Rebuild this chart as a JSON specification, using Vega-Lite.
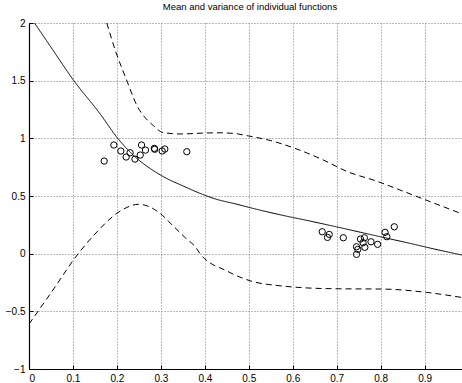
{
  "$schema": "https://vega.github.io/schema/vega-lite/v6.json",
  "width": 433,
  "height": 346,
  "autosize": {"type": "none"},
  "padding": {"left": 29, "top": 23, "right": 0, "bottom": 14},
  "background": "white",
  "title": {"text": "Mean and variance of individual functions", "fontSize": 9.5, "fontWeight": "normal", "font": "Liberation Sans", "color": "black", "anchor": "middle", "dx": 4.5, "offset": 7},
  "config": {
    "view": {"stroke": null},
    "font": "Liberation Sans",
    "axis": {
      "labelFont": "Liberation Sans", "labelFontSize": 10, "labelColor": "black",
      "domainColor": "black", "domainWidth": 1.2, "tickColor": "black", "tickSize": -4,
      "gridColor": "#777", "gridDash": [1, 2], "gridWidth": 1, "gridOpacity": 1,
      "title": null, "format": "~g"
    }
  },
  "datasets": {
    "curves": [
      {"curve": "mean", "x": 0, "y": 2.07},
      {"curve": "mean", "x": 0.05, "y": 1.79},
      {"curve": "mean", "x": 0.102, "y": 1.5},
      {"curve": "mean", "x": 0.162, "y": 1.211},
      {"curve": "mean", "x": 0.199, "y": 1.014},
      {"curve": "mean", "x": 0.237, "y": 0.855},
      {"curve": "mean", "x": 0.275, "y": 0.74},
      {"curve": "mean", "x": 0.313, "y": 0.653},
      {"curve": "mean", "x": 0.351, "y": 0.586},
      {"curve": "mean", "x": 0.389, "y": 0.523},
      {"curve": "mean", "x": 0.427, "y": 0.471},
      {"curve": "mean", "x": 0.465, "y": 0.436},
      {"curve": "mean", "x": 0.525, "y": 0.378},
      {"curve": "mean", "x": 0.58, "y": 0.33},
      {"curve": "mean", "x": 0.639, "y": 0.283},
      {"curve": "mean", "x": 0.7, "y": 0.232},
      {"curve": "mean", "x": 0.8, "y": 0.146},
      {"curve": "mean", "x": 0.867, "y": 0.089},
      {"curve": "mean", "x": 0.92, "y": 0.042},
      {"curve": "mean", "x": 0.985, "y": -0.012},
      {"curve": "upper", "x": 0.177, "y": 2.0},
      {"curve": "upper", "x": 0.196, "y": 1.766},
      {"curve": "upper", "x": 0.222, "y": 1.506},
      {"curve": "upper", "x": 0.245, "y": 1.289},
      {"curve": "upper", "x": 0.283, "y": 1.11},
      {"curve": "upper", "x": 0.305, "y": 1.05},
      {"curve": "upper", "x": 0.343, "y": 1.038},
      {"curve": "upper", "x": 0.4, "y": 1.046},
      {"curve": "upper", "x": 0.43, "y": 1.048},
      {"curve": "upper", "x": 0.465, "y": 1.043},
      {"curve": "upper", "x": 0.5, "y": 1.02},
      {"curve": "upper", "x": 0.55, "y": 0.98},
      {"curve": "upper", "x": 0.605, "y": 0.913},
      {"curve": "upper", "x": 0.665, "y": 0.82},
      {"curve": "upper", "x": 0.725, "y": 0.71},
      {"curve": "upper", "x": 0.79, "y": 0.63},
      {"curve": "upper", "x": 0.844, "y": 0.552},
      {"curve": "upper", "x": 0.92, "y": 0.44},
      {"curve": "upper", "x": 0.985, "y": 0.345},
      {"curve": "lower", "x": 0, "y": -0.61},
      {"curve": "lower", "x": 0.05, "y": -0.34},
      {"curve": "lower", "x": 0.112, "y": 0.0},
      {"curve": "lower", "x": 0.15, "y": 0.17},
      {"curve": "lower", "x": 0.2, "y": 0.35},
      {"curve": "lower", "x": 0.225, "y": 0.405},
      {"curve": "lower", "x": 0.248, "y": 0.428},
      {"curve": "lower", "x": 0.272, "y": 0.41},
      {"curve": "lower", "x": 0.298, "y": 0.35},
      {"curve": "lower", "x": 0.328, "y": 0.24},
      {"curve": "lower", "x": 0.355, "y": 0.14},
      {"curve": "lower", "x": 0.381, "y": 0.046},
      {"curve": "lower", "x": 0.389, "y": 0.0},
      {"curve": "lower", "x": 0.45, "y": -0.15},
      {"curve": "lower", "x": 0.503, "y": -0.235},
      {"curve": "lower", "x": 0.578, "y": -0.281},
      {"curve": "lower", "x": 0.692, "y": -0.304},
      {"curve": "lower", "x": 0.806, "y": -0.307},
      {"curve": "lower", "x": 0.905, "y": -0.336},
      {"curve": "lower", "x": 0.985, "y": -0.38}
    ],
    "points": [
      {"x": 0.171, "y": 0.803},
      {"x": 0.193, "y": 0.942},
      {"x": 0.209, "y": 0.89},
      {"x": 0.221, "y": 0.838},
      {"x": 0.23, "y": 0.875},
      {"x": 0.241, "y": 0.82},
      {"x": 0.253, "y": 0.855},
      {"x": 0.256, "y": 0.942},
      {"x": 0.265, "y": 0.898},
      {"x": 0.285, "y": 0.913},
      {"x": 0.286, "y": 0.905},
      {"x": 0.303, "y": 0.89},
      {"x": 0.309, "y": 0.907},
      {"x": 0.359, "y": 0.884},
      {"x": 0.667, "y": 0.19},
      {"x": 0.679, "y": 0.141},
      {"x": 0.683, "y": 0.167},
      {"x": 0.715, "y": 0.138},
      {"x": 0.745, "y": 0.06},
      {"x": 0.748, "y": 0.037},
      {"x": 0.745, "y": -0.006},
      {"x": 0.754, "y": 0.127},
      {"x": 0.763, "y": 0.138},
      {"x": 0.76, "y": 0.095},
      {"x": 0.764, "y": 0.055},
      {"x": 0.778, "y": 0.103},
      {"x": 0.793, "y": 0.081},
      {"x": 0.81, "y": 0.185},
      {"x": 0.814, "y": 0.147},
      {"x": 0.831, "y": 0.233}
    ]
  },
  "layer": [
    {
      "data": {"name": "curves"},
      "mark": {"type": "line", "color": "black", "strokeWidth": 1, "interpolate": "monotone", "clip": true},
      "encoding": {
        "x": {"field": "x", "type": "quantitative", "scale": {"domain": [0, 0.985], "nice": false, "zero": false},
          "axis": {"values": [0, 0.1, 0.2, 0.3, 0.4, 0.5, 0.6, 0.7, 0.8, 0.9], "labelPadding": 8, "grid": true}},
        "y": {"field": "y", "type": "quantitative", "scale": {"domain": [-1, 2], "nice": false, "zero": false},
          "axis": {"values": [-1, -0.5, 0, 0.5, 1, 1.5, 2], "labelPadding": 8, "grid": true}},
        "detail": {"field": "curve"},
        "strokeDash": {"field": "curve", "type": "nominal", "scale": {"domain": ["mean", "upper", "lower"], "range": [[1, 0], [6, 4], [6, 4]]}, "legend": null}
      }
    },
    {
      "data": {"name": "points"},
      "mark": {"type": "point", "shape": "circle", "filled": false, "color": "black", "strokeWidth": 1, "size": 40, "opacity": 1},
      "encoding": {
        "x": {"field": "x", "type": "quantitative"},
        "y": {"field": "y", "type": "quantitative"}
      }
    }
  ]
}
